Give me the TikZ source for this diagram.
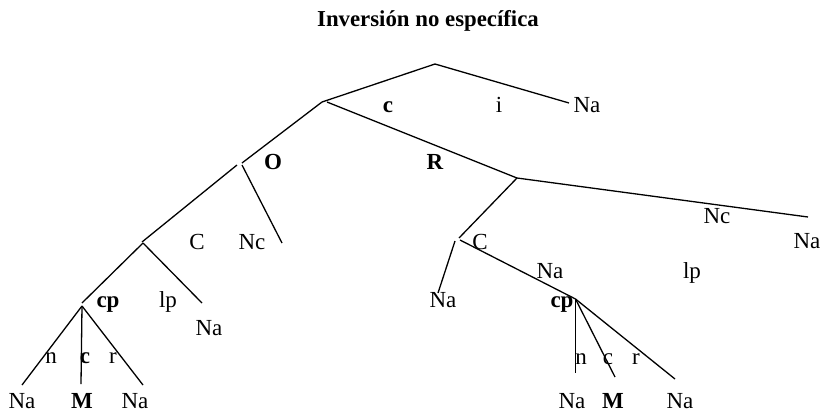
\documentclass[tikz,border=0pt]{standalone}
\usepackage{fontspec}
\setmainfont{Liberation Serif}
\begin{document}
\begin{tikzpicture}[x=1pt,y=-1pt,
  br/.style={line width=1.3pt, line cap=butt},
  lab/.style={anchor=base, inner sep=0pt, font=\fontsize{23}{26}\selectfont},
  blab/.style={lab, font=\fontsize{23}{26}\selectfont\bfseries}]
\useasboundingbox (0,0) rectangle (824,416);
\node[anchor=base, inner sep=0pt, font=\fontsize{22.8}{26}\selectfont\bfseries] (title) at (428,26) {Inversión no específica};
% coordinates
\coordinate (top) at (435,64);
\coordinate (c1) at (322,102);
\coordinate (c1r) at (327,102);
\coordinate (na1) at (569,103);
\coordinate (o1) at (242,163);
\coordinate (o1a) at (237,165);
\coordinate (o1b) at (242,165);
\coordinate (nc1) at (282,243);
\coordinate (cc1) at (142,242);
\coordinate (cc1b) at (143,243);
\coordinate (lp1) at (202,303);
\coordinate (cp1) at (82,303);
\coordinate (cp1b) at (82,306);
\coordinate (l1) at (22,385);
\coordinate (l2) at (81,384);
\coordinate (l3) at (143,385);
\coordinate (r1) at (517,178);
\coordinate (rr) at (808,217);
\coordinate (cc2) at (459,238);
\coordinate (cc2a) at (455,241);
\coordinate (cc2b) at (460,240);
\coordinate (na2) at (438,293);
\coordinate (cp2) at (575.5,299);
\coordinate (m1) at (575.5,373);
\coordinate (m2) at (615,377);
\coordinate (m3) at (675,379);
% branches
\draw[br] (c1) -- (top) -- (na1);
\draw[br] (c1) -- (o1);
\draw[br] (c1r) -- (r1) -- (rr);
\draw[br] (r1) -- (cc2);
\draw[br] (o1a) -- (cc1);
\draw[br] (o1b) -- (nc1);
\draw[br] (cc1b) -- (cp1);
\draw[br] (cc1b) -- (lp1);
\draw[br] (cp1b) -- (l1);
\draw[br] (cp1b) -- (l2);
\draw[br] (cp1b) -- (l3);
\draw[br] (cc2a) -- (na2);
\draw[br] (cc2b) -- (cp2);
\draw[br] (cp2) -- (m1);
\draw[br] (cp2) -- (m2);
\draw[br] (cp2) -- (m3);
% labels
\node[blab] (tc) at (388,112) {c};
\node[lab] (ti) at (499,112) {i};
\node[lab] (tna1) at (587,112) {Na};
\node[blab] (tO) at (273,169) {O};
\node[blab] (tR) at (435,169) {R};
\node[lab] (tC1) at (197,249) {C};
\node[lab] (tNc1) at (252,249) {Nc};
\node[blab] (tcp1) at (108,307) {cp};
\node[lab] (tlp1) at (168,307) {lp};
\node[lab] (tna2) at (209,335) {Na};
\node[lab] (tn1) at (51,363) {n};
\node[blab] (tc2) at (85,363) {c};
\node[lab] (tr1) at (113,363) {r};
\node[lab] (tna3) at (22,408) {Na};
\node[blab] (tM1) at (82,408) {M};
\node[lab] (tna4) at (135,408) {Na};
\node[lab] (tNc2) at (717,223) {Nc};
\node[lab] (tna5) at (807,248) {Na};
\node[lab] (tC2) at (480,249) {C};
\node[lab] (tna6) at (550,278) {Na};
\node[lab] (tlp2) at (692,278) {lp};
\node[lab] (tna7) at (443,307) {Na};
\node[blab] (tcp2) at (562,307) {cp};
\node[lab] (tn2) at (581,364) {n};
\node[lab] (tc3) at (608,364) {c};
\node[lab] (tr2) at (636,364) {r};
\node[lab] (tna8) at (572,408) {Na};
\node[blab] (tM2) at (613,408) {M};
\node[lab] (tna9) at (680,408) {Na};
\end{tikzpicture}
\end{document}
